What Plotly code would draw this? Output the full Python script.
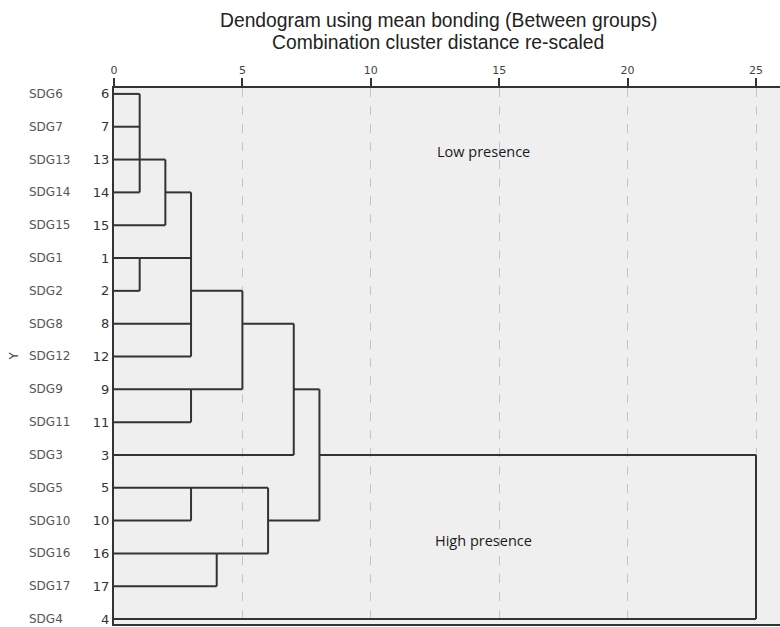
import numpy as np
import plotly.graph_objects as go

# ---- data ----
leaf_ids = [6, 7, 13, 14, 15, 1, 2, 8, 12, 9, 11, 3, 5, 10, 16, 17, 4]
leaf_labels = ["SDG6", "SDG7", "SDG13", "SDG14", "SDG15", "SDG1", "SDG2", "SDG8",
               "SDG12", "SDG9", "SDG11", "SDG3", "SDG5", "SDG10", "SDG16", "SDG17", "SDG4"]
merge_names = ["A", "B", "C", "D", "E", "F", "G", "H", "I", "J", "K", "L"]
merge_children = [
    ["L6", "L7", "L13", "L14"],
    ["A", "L15"],
    ["L1", "L2"],
    ["B", "C", "L8", "L12"],
    ["L9", "L11"],
    ["D", "E"],
    ["F", "L3"],
    ["L5", "L10"],
    ["L16", "L17"],
    ["H", "I"],
    ["G", "J"],
    ["K", "L4"],
]
merge_dist = [1, 2, 1, 3, 3, 5, 7, 3, 4, 6, 8, 25]
x_ticks = [0, 5, 10, 15, 20, 25]
title_lines = ["Dendogram using mean bonding (Between groups)",
               "Combination cluster distance re-scaled"]
group_labels = ["Low presence", "High presence"]

# ---- build dendrogram segments ----
row = {f"L{lid}": i for i, lid in enumerate(leaf_ids)}
height = {f"L{lid}": 0 for lid in leaf_ids}
xs, ys = [], []
for name, children, d in zip(merge_names, merge_children, merge_dist):
    rows = [row[c] for c in children]
    for c in children:
        xs += [height[c], d, None]
        ys += [row[c], row[c], None]
    xs += [d, d, None]
    ys += [min(rows), max(rows), None]
    m = (min(rows) + max(rows)) / 2
    row[name] = int(np.floor(m)) if len(children) == 2 else int(np.ceil(m))
    height[name] = d

fig = go.Figure()
fig.add_trace(go.Scatter(x=xs, y=ys, mode="lines",
                         line=dict(color="#333333", width=2),
                         hoverinfo="skip", showlegend=False))

W, H = 780, 627
L, T, B = 114, 88, 1
PW = W - L
PH = H - T - B

def px_x(sx):
    return (sx - L) / PW

def px_y(sy):
    return 1 - (sy - T) / PH

n = len(leaf_ids)
fig.update_layout(
    width=W, height=H,
    margin=dict(l=L, r=0, t=T, b=B),
    paper_bgcolor="white", plot_bgcolor="#efefef",
    showlegend=False,
    xaxis=dict(side="top", range=[0, PW / 25.68], tickvals=x_ticks,
               ticktext=[str(v) for v in x_ticks],
               ticks="outside", ticklen=8, tickwidth=2, tickcolor="#333",
               tickfont=dict(family="DejaVu Sans", size=11, color="#444"),
               showgrid=True, gridcolor="#c4c4c4", griddash="dash", gridwidth=1,
               showline=True, linecolor="#333", linewidth=2, mirror=True,
               zeroline=False, fixedrange=True),
    yaxis=dict(range=[n - 1 + 0.15, -0.18], tickvals=list(range(n)),
               ticktext=[str(v) for v in leaf_ids], ticks="",
               ticklabeloverflow="allow",
               tickfont=dict(family="DejaVu Sans", size=13, color="#333"),
               showgrid=False, zeroline=False,
               showline=True, linecolor="#333", linewidth=2,
               fixedrange=True),
)

# SDG names column
for i, lab in enumerate(leaf_labels):
    fig.add_annotation(x=px_x(27), xref="paper", y=i, yref="y",
                       text=lab, showarrow=False, xanchor="left", yanchor="middle",
                       font=dict(family="DejaVu Sans", size=12, color="#555"))

# rotated axis title "Y"
fig.add_annotation(x=px_x(14), xref="paper", y=8, yref="y",
                   text="Y", textangle=-90, showarrow=False,
                   xanchor="center", yanchor="middle",
                   font=dict(family="DejaVu Sans", size=12, color="#444"))

# title lines
for t, sy in zip(title_lines, [20, 42]):
    fig.add_annotation(x=px_x(438), xref="paper", y=px_y(sy), yref="paper",
                       text=t, showarrow=False, xanchor="center", yanchor="middle",
                       font=dict(family="Liberation Sans", size=19.3, color="#222"))

# group labels
fig.add_annotation(x=14.4, y=1.75, text=group_labels[0], showarrow=False,
                   font=dict(family="Open Sans", size=14.5, color="#1a1a1a"))
fig.add_annotation(x=14.4, y=13.6, text=group_labels[1], showarrow=False,
                   font=dict(family="Open Sans", size=14.5, color="#1a1a1a"))

fig.write_html("out.html",
               config={"displayModeBar": False},
               post_script="document.body.style.margin='0';"
                           "document.body.style.overflow='hidden';")
